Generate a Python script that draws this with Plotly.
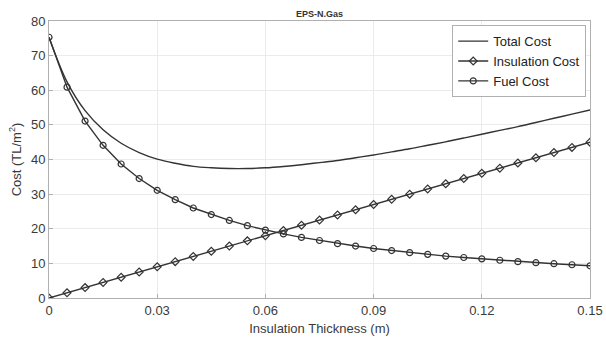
import plotly.graph_objects as go

thickness = [0.000, 0.005, 0.010, 0.015, 0.020, 0.025, 0.030, 0.035, 0.040, 0.045,
             0.050, 0.055, 0.060, 0.065, 0.070, 0.075, 0.080, 0.085, 0.090, 0.095,
             0.100, 0.105, 0.110, 0.115, 0.120, 0.125, 0.130, 0.135, 0.140, 0.145, 0.150]
insulation_cost = [0.0, 1.5, 3.0, 4.5, 6.0, 7.5, 9.0, 10.5, 12.0, 13.5,
                   15.0, 16.5, 18.0, 19.5, 21.0, 22.5, 24.0, 25.5, 27.0, 28.5,
                   30.0, 31.5, 33.0, 34.5, 36.0, 37.5, 39.0, 40.5, 42.0, 43.5, 45.0]
fuel_cost = [75.3, 60.9, 51.1, 44.1, 38.7, 34.5, 31.1, 28.4, 26.0, 24.1,
             22.4, 20.9, 19.6, 18.5, 17.5, 16.6, 15.7, 15.0, 14.3, 13.7,
             13.1, 12.6, 12.1, 11.7, 11.3, 10.9, 10.5, 10.2, 9.9, 9.6, 9.3]
total_cost = [75.3, 62.4, 54.1, 48.6, 44.7, 42.0, 40.1, 38.9, 38.0, 37.6,
              37.4, 37.4, 37.6, 38.0, 38.5, 39.1, 39.7, 40.5, 41.3, 42.2,
              43.1, 44.1, 45.1, 46.2, 47.3, 48.4, 49.5, 50.7, 51.9, 53.1, 54.3]

x_ticks = [0, 0.03, 0.06, 0.09, 0.12, 0.15]
x_tick_labels = ["0", "0.03", "0.06", "0.09", "0.12", "0.15"]
y_ticks = [0, 10, 20, 30, 40, 50, 60, 70, 80]

lc = "#333333"
fnt = "Liberation Sans, Arial"
fig = go.Figure()
fig.add_trace(go.Scatter(x=thickness, y=total_cost, mode="lines", name="Total Cost",
                         line=dict(color=lc, width=1.4, shape="spline")))
fig.add_trace(go.Scatter(x=thickness, y=insulation_cost, mode="lines+markers", name="Insulation Cost",
                         line=dict(color=lc, width=1.4),
                         marker=dict(symbol="diamond-open", size=6, color=lc, line=dict(width=1.2))))
fig.add_trace(go.Scatter(x=thickness, y=fuel_cost, mode="lines+markers", name="Fuel Cost",
                         line=dict(color=lc, width=1.4),
                         marker=dict(symbol="circle-open", size=6, color=lc, line=dict(width=1.2))))

axis_common = dict(showline=True, linecolor="#b0b0b0", linewidth=1, mirror=True,
                   showgrid=True, gridcolor="#ebebeb", gridwidth=1,
                   ticks="inside", ticklen=4, tickcolor="#b0b0b0", automargin=False,
                   zeroline=False, tickfont=dict(family=fnt, size=13, color="#3a3a3a"))

fig.update_layout(
    width=606, height=343,
    margin=dict(l=49, r=16, t=21, b=45),
    paper_bgcolor="white", plot_bgcolor="white",
    title=dict(text="<b>EPS-N.Gas</b>", x=0.5, xanchor="center", y=0.97, yanchor="top",
               xref="paper",
               font=dict(family=fnt, size=9, color="#333333")),
    xaxis=dict(range=[0, 0.15], tickvals=x_ticks, ticktext=x_tick_labels,
               title=dict(text="Insulation Thickness (m)", standoff=7,
                          font=dict(family=fnt, size=13, color="#3a3a3a")),
               **axis_common),
    yaxis=dict(range=[0, 80], tickvals=y_ticks,
               title=dict(text="Cost (TL/m<sup>2</sup>)", standoff=6,
                          font=dict(family=fnt, size=13, color="#3a3a3a")),
               **axis_common),
    legend=dict(x=0.993, xanchor="right", y=0.985, yanchor="top",
                bgcolor="white", bordercolor="#b0b0b0", borderwidth=1,
                font=dict(family=fnt, size=13, color="#222222"),
                itemwidth=30, tracegroupgap=0, traceorder="normal"),
    showlegend=True,
)

fig.write_html("out.html")
